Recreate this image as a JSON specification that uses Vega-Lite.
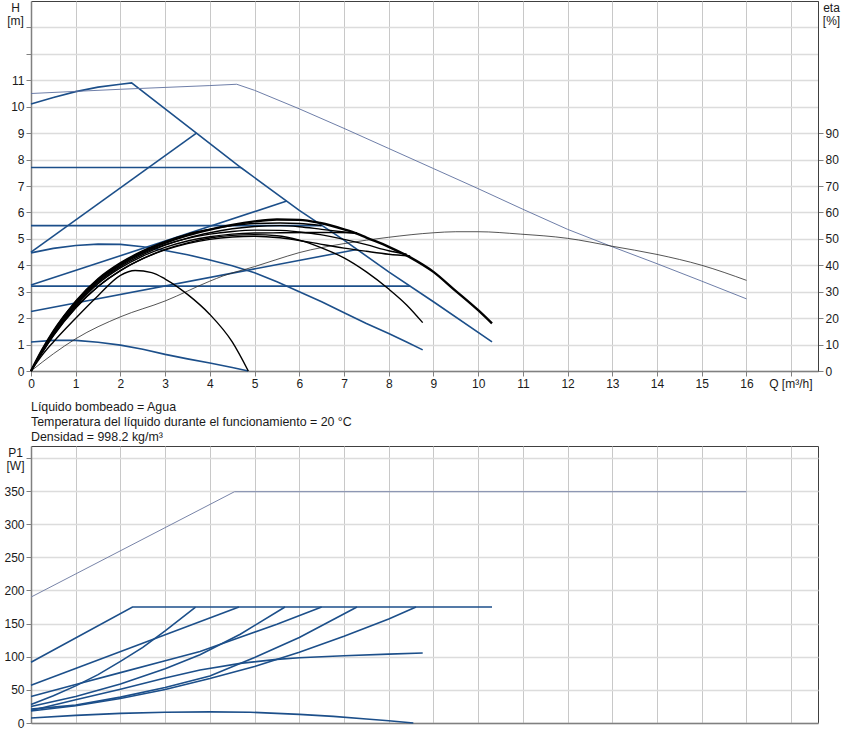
{
  "$schema": "https://vega.github.io/schema/vega-lite/v6.json",
  "padding": {"left": 3, "top": 0, "right": 5, "bottom": 5},
  "background": "white",
  "config": {
    "font": "Liberation Sans",
    "view": {"stroke": "#404040", "strokeWidth": 1},
    "axis": {
      "labelFont": "Liberation Sans", "labelFontSize": 12, "labelColor": "#1a1a1a",
      "titleFont": "Liberation Sans", "titleFontSize": 12, "titleFontWeight": "normal", "titleColor": "#1a1a1a",
      "domainColor": "#808080", "domainWidth": 1.5, "tickColor": "#808080", "tickSize": 5, "labelPadding": 2,
      "gridColor": "#d3d3d3", "labelFlush": false, "labelOverlap": false
    }
  },
  "datasets": {
    "h": [
      {"c": "max", "q": 0, "h": 10.1}, {"c": "max", "q": 0.5, "h": 10.35}, {"c": "max", "q": 1, "h": 10.57}, {"c": "max", "q": 1.5, "h": 10.74}, {"c": "max", "q": 2, "h": 10.85}, {"c": "max", "q": 2.25, "h": 10.9}, {"c": "max", "q": 3.7, "h": 9.0}, {"c": "max", "q": 4.7, "h": 7.69}, {"c": "max", "q": 6, "h": 6.08}, {"c": "max", "q": 7, "h": 4.95}, {"c": "max", "q": 8, "h": 3.75}, {"c": "max", "q": 9, "h": 2.62}, {"c": "max", "q": 10.31, "h": 1.1},
      {"c": "cp3", "q": 0, "h": 7.7}, {"c": "cp3", "q": 4.7, "h": 7.7},
      {"c": "cp2", "q": 0, "h": 5.5}, {"c": "cp2", "q": 6.5, "h": 5.5},
      {"c": "cp1", "q": 0, "h": 3.21}, {"c": "cp1", "q": 8.48, "h": 3.21},
      {"c": "pp3", "q": 0, "h": 4.5}, {"c": "pp3", "q": 3.7, "h": 9.0},
      {"c": "pp2", "q": 0, "h": 3.25}, {"c": "pp2", "q": 5.72, "h": 6.43},
      {"c": "pp1", "q": 0, "h": 2.25}, {"c": "pp1", "q": 7.29, "h": 4.6},
      {"c": "s2", "q": 0, "h": 4.47}, {"c": "s2", "q": 0.5, "h": 4.64}, {"c": "s2", "q": 1, "h": 4.75}, {"c": "s2", "q": 1.5, "h": 4.8}, {"c": "s2", "q": 2, "h": 4.79}, {"c": "s2", "q": 2.5, "h": 4.7}, {"c": "s2", "q": 3, "h": 4.56}, {"c": "s2", "q": 3.5, "h": 4.4}, {"c": "s2", "q": 4, "h": 4.2}, {"c": "s2", "q": 4.5, "h": 3.98}, {"c": "s2", "q": 5, "h": 3.72}, {"c": "s2", "q": 5.5, "h": 3.38}, {"c": "s2", "q": 6, "h": 3.0}, {"c": "s2", "q": 6.5, "h": 2.62}, {"c": "s2", "q": 7.06, "h": 2.16}, {"c": "s2", "q": 7.5, "h": 1.8}, {"c": "s2", "q": 8, "h": 1.42}, {"c": "s2", "q": 8.4, "h": 1.1}, {"c": "s2", "q": 8.76, "h": 0.8},
      {"c": "s1", "q": 0, "h": 1.1}, {"c": "s1", "q": 0.5, "h": 1.16}, {"c": "s1", "q": 1, "h": 1.16}, {"c": "s1", "q": 1.5, "h": 1.09}, {"c": "s1", "q": 2, "h": 0.98}, {"c": "s1", "q": 2.5, "h": 0.82}, {"c": "s1", "q": 3, "h": 0.63}, {"c": "s1", "q": 3.5, "h": 0.46}, {"c": "s1", "q": 4, "h": 0.3}, {"c": "s1", "q": 4.5, "h": 0.13}, {"c": "s1", "q": 4.86, "h": 0},
      {"c": "ref", "q": 0, "h": 10.5}, {"c": "ref", "q": 1, "h": 10.58}, {"c": "ref", "q": 2, "h": 10.66}, {"c": "ref", "q": 3, "h": 10.73}, {"c": "ref", "q": 4, "h": 10.8}, {"c": "ref", "q": 4.6, "h": 10.85}, {"c": "ref", "q": 5, "h": 10.62}, {"c": "ref", "q": 6, "h": 9.92}, {"c": "ref", "q": 7, "h": 9.18}, {"c": "ref", "q": 8, "h": 8.42}, {"c": "ref", "q": 9, "h": 7.66}, {"c": "ref", "q": 10, "h": 6.9}, {"c": "ref", "q": 11, "h": 6.12}, {"c": "ref", "q": 12, "h": 5.36}, {"c": "ref", "q": 13, "h": 4.7}, {"c": "ref", "q": 14, "h": 4.06}, {"c": "ref", "q": 15, "h": 3.4}, {"c": "ref", "q": 16, "h": 2.73}
    ],
    "eta": [
      {"c": "emax", "q": 0, "e": 0}, {"c": "emax", "q": 0.25, "e": 8}, {"c": "emax", "q": 0.5, "e": 15}, {"c": "emax", "q": 1, "e": 26}, {"c": "emax", "q": 1.5, "e": 34.5}, {"c": "emax", "q": 2, "e": 40.5}, {"c": "emax", "q": 2.5, "e": 45}, {"c": "emax", "q": 3, "e": 48.5}, {"c": "emax", "q": 3.5, "e": 51.3}, {"c": "emax", "q": 4, "e": 53.5}, {"c": "emax", "q": 4.5, "e": 55.3}, {"c": "emax", "q": 5, "e": 56.6}, {"c": "emax", "q": 5.5, "e": 57.3}, {"c": "emax", "q": 6, "e": 57.2}, {"c": "emax", "q": 6.47, "e": 56}, {"c": "emax", "q": 7, "e": 53.6}, {"c": "emax", "q": 7.29, "e": 52}, {"c": "emax", "q": 7.5, "e": 50.5}, {"c": "emax", "q": 8, "e": 47}, {"c": "emax", "q": 8.48, "e": 43}, {"c": "emax", "q": 9, "e": 37.5}, {"c": "emax", "q": 9.45, "e": 31}, {"c": "emax", "q": 10, "e": 23}, {"c": "emax", "q": 10.31, "e": 18},
      {"c": "ea", "q": 0, "e": 0}, {"c": "ea", "q": 0.25, "e": 8}, {"c": "ea", "q": 0.5, "e": 15}, {"c": "ea", "q": 1, "e": 26.5}, {"c": "ea", "q": 1.5, "e": 35}, {"c": "ea", "q": 2, "e": 41}, {"c": "ea", "q": 2.5, "e": 45.5}, {"c": "ea", "q": 3, "e": 49}, {"c": "ea", "q": 3.5, "e": 51.8}, {"c": "ea", "q": 4, "e": 53.6}, {"c": "ea", "q": 4.5, "e": 55}, {"c": "ea", "q": 5, "e": 55.8}, {"c": "ea", "q": 5.57, "e": 56}, {"c": "ea", "q": 6, "e": 55.8}, {"c": "ea", "q": 6.5, "e": 55},
      {"c": "eb", "q": 0, "e": 0}, {"c": "eb", "q": 0.25, "e": 7.5}, {"c": "eb", "q": 0.5, "e": 14.2}, {"c": "eb", "q": 1, "e": 25}, {"c": "eb", "q": 1.5, "e": 33.5}, {"c": "eb", "q": 2, "e": 39.5}, {"c": "eb", "q": 2.5, "e": 44}, {"c": "eb", "q": 3, "e": 47.6}, {"c": "eb", "q": 3.5, "e": 50.3}, {"c": "eb", "q": 4, "e": 52.3}, {"c": "eb", "q": 4.5, "e": 53.8}, {"c": "eb", "q": 5, "e": 54.7}, {"c": "eb", "q": 5.57, "e": 55}, {"c": "eb", "q": 6, "e": 54.6}, {"c": "eb", "q": 6.5, "e": 53.6}, {"c": "eb", "q": 7, "e": 52.6}, {"c": "eb", "q": 7.29, "e": 52},
      {"c": "ec", "q": 0, "e": 0}, {"c": "ec", "q": 0.25, "e": 7.2}, {"c": "ec", "q": 0.5, "e": 13.8}, {"c": "ec", "q": 1, "e": 24.5}, {"c": "ec", "q": 1.5, "e": 33}, {"c": "ec", "q": 2, "e": 39}, {"c": "ec", "q": 2.5, "e": 43.5}, {"c": "ec", "q": 3, "e": 46.8}, {"c": "ec", "q": 3.5, "e": 49.2}, {"c": "ec", "q": 4, "e": 50.8}, {"c": "ec", "q": 4.5, "e": 51.8}, {"c": "ec", "q": 5, "e": 52.2}, {"c": "ec", "q": 5.57, "e": 52.3}, {"c": "ec", "q": 6.5, "e": 52.4}, {"c": "ec", "q": 7.29, "e": 52.3},
      {"c": "ed", "q": 0, "e": 0}, {"c": "ed", "q": 0.25, "e": 7.6}, {"c": "ed", "q": 0.5, "e": 14.4}, {"c": "ed", "q": 1, "e": 25.3}, {"c": "ed", "q": 1.5, "e": 34}, {"c": "ed", "q": 2, "e": 40}, {"c": "ed", "q": 2.5, "e": 44.5}, {"c": "ed", "q": 3, "e": 47.8}, {"c": "ed", "q": 3.5, "e": 50.2}, {"c": "ed", "q": 4, "e": 51.8}, {"c": "ed", "q": 4.5, "e": 52.8}, {"c": "ed", "q": 5, "e": 53.3}, {"c": "ed", "q": 5.57, "e": 53.2}, {"c": "ed", "q": 6, "e": 52.6}, {"c": "ed", "q": 6.47, "e": 51.6}, {"c": "ed", "q": 7, "e": 49.8}, {"c": "ed", "q": 7.5, "e": 47.8}, {"c": "ed", "q": 8, "e": 45.5}, {"c": "ed", "q": 8.4, "e": 44.2},
      {"c": "ecp1", "q": 0, "e": 0}, {"c": "ecp1", "q": 0.25, "e": 7}, {"c": "ecp1", "q": 0.5, "e": 13.3}, {"c": "ecp1", "q": 1, "e": 23.8}, {"c": "ecp1", "q": 1.5, "e": 32}, {"c": "ecp1", "q": 2, "e": 38}, {"c": "ecp1", "q": 2.5, "e": 42.5}, {"c": "ecp1", "q": 3, "e": 45.8}, {"c": "ecp1", "q": 3.5, "e": 48.2}, {"c": "ecp1", "q": 4, "e": 49.8}, {"c": "ecp1", "q": 4.5, "e": 50.7}, {"c": "ecp1", "q": 5, "e": 51}, {"c": "ecp1", "q": 5.57, "e": 50.4}, {"c": "ecp1", "q": 6, "e": 49.4}, {"c": "ecp1", "q": 6.47, "e": 48}, {"c": "ecp1", "q": 7, "e": 46.5}, {"c": "ecp1", "q": 7.5, "e": 45.3}, {"c": "ecp1", "q": 8, "e": 44.2}, {"c": "ecp1", "q": 8.48, "e": 43.5},
      {"c": "e2", "q": 0, "e": 0}, {"c": "e2", "q": 0.25, "e": 7}, {"c": "e2", "q": 0.5, "e": 13.5}, {"c": "e2", "q": 1, "e": 24}, {"c": "e2", "q": 1.5, "e": 32}, {"c": "e2", "q": 2, "e": 38}, {"c": "e2", "q": 2.5, "e": 42.5}, {"c": "e2", "q": 3, "e": 46}, {"c": "e2", "q": 3.5, "e": 48.5}, {"c": "e2", "q": 4, "e": 50.3}, {"c": "e2", "q": 4.5, "e": 51.3}, {"c": "e2", "q": 5, "e": 51.6}, {"c": "e2", "q": 5.5, "e": 51.2}, {"c": "e2", "q": 6, "e": 49.5}, {"c": "e2", "q": 6.47, "e": 46.8}, {"c": "e2", "q": 7, "e": 42.8}, {"c": "e2", "q": 7.5, "e": 37.5}, {"c": "e2", "q": 8, "e": 31}, {"c": "e2", "q": 8.4, "e": 25}, {"c": "e2", "q": 8.76, "e": 18.3},
      {"c": "e1", "q": 0, "e": 0}, {"c": "e1", "q": 0.25, "e": 6}, {"c": "e1", "q": 0.5, "e": 11}, {"c": "e1", "q": 1, "e": 20}, {"c": "e1", "q": 1.5, "e": 28.5}, {"c": "e1", "q": 2, "e": 36.2}, {"c": "e1", "q": 2.33, "e": 38}, {"c": "e1", "q": 2.7, "e": 37.2}, {"c": "e1", "q": 3, "e": 34.8}, {"c": "e1", "q": 3.5, "e": 29}, {"c": "e1", "q": 4, "e": 21.4}, {"c": "e1", "q": 4.5, "e": 11}, {"c": "e1", "q": 4.86, "e": 0}
    ],
    "etaref": [
      {"q": 0, "e": 0}, {"q": 0.5, "e": 6.5}, {"q": 1, "e": 12.2}, {"q": 2, "e": 20.5}, {"q": 3, "e": 26.5}, {"q": 4, "e": 34}, {"q": 4.3, "e": 36}, {"q": 5, "e": 39.5}, {"q": 5.46, "e": 42}, {"q": 6, "e": 44.8}, {"q": 7, "e": 48.2}, {"q": 8, "e": 50.6}, {"q": 9, "e": 52.3}, {"q": 9.5, "e": 52.7}, {"q": 10, "e": 52.7}, {"q": 10.94, "e": 51.8}, {"q": 12, "e": 50.2}, {"q": 13, "e": 47.2}, {"q": 14, "e": 44.1}, {"q": 15, "e": 40}, {"q": 16, "e": 34.3}
    ],
    "p": [
      {"c": "ref", "q": 0, "p": 190}, {"c": "ref", "q": 4.55, "p": 349}, {"c": "ref", "q": 16, "p": 349},
      {"c": "max", "q": 0, "p": 91.7}, {"c": "max", "q": 2.27, "p": 175}, {"c": "max", "q": 10.31, "p": 175},
      {"c": "pp3", "q": 0, "p": 28}, {"c": "pp3", "q": 0.5, "p": 41}, {"c": "pp3", "q": 1, "p": 56}, {"c": "pp3", "q": 1.5, "p": 73}, {"c": "pp3", "q": 2, "p": 93}, {"c": "pp3", "q": 2.5, "p": 114}, {"c": "pp3", "q": 3, "p": 139}, {"c": "pp3", "q": 3.68, "p": 175},
      {"c": "cp3", "q": 0, "p": 57}, {"c": "cp3", "q": 4.65, "p": 175},
      {"c": "pp2", "q": 0, "p": 25}, {"c": "pp2", "q": 1, "p": 40}, {"c": "pp2", "q": 2, "p": 59}, {"c": "pp2", "q": 3, "p": 82}, {"c": "pp2", "q": 3.78, "p": 103}, {"c": "pp2", "q": 4.68, "p": 134}, {"c": "pp2", "q": 5.68, "p": 175},
      {"c": "cp2", "q": 0, "p": 40}, {"c": "cp2", "q": 1, "p": 58}, {"c": "cp2", "q": 2, "p": 76}, {"c": "cp2", "q": 3, "p": 94}, {"c": "cp2", "q": 3.78, "p": 108}, {"c": "cp2", "q": 4.41, "p": 123}, {"c": "cp2", "q": 5.5, "p": 149}, {"c": "cp2", "q": 6.5, "p": 175},
      {"c": "pp1", "q": 0, "p": 21}, {"c": "pp1", "q": 1, "p": 27}, {"c": "pp1", "q": 2, "p": 39}, {"c": "pp1", "q": 3, "p": 53.5}, {"c": "pp1", "q": 4, "p": 71}, {"c": "pp1", "q": 5, "p": 99}, {"c": "pp1", "q": 6, "p": 129}, {"c": "pp1", "q": 7.29, "p": 175},
      {"c": "cp1", "q": 0, "p": 18}, {"c": "cp1", "q": 1, "p": 26}, {"c": "cp1", "q": 2, "p": 37}, {"c": "cp1", "q": 3, "p": 50.5}, {"c": "cp1", "q": 4, "p": 67}, {"c": "cp1", "q": 5, "p": 85.3}, {"c": "cp1", "q": 6, "p": 106.7}, {"c": "cp1", "q": 7, "p": 131}, {"c": "cp1", "q": 8, "p": 157}, {"c": "cp1", "q": 8.61, "p": 175},
      {"c": "s2", "q": 0, "p": 19}, {"c": "s2", "q": 1, "p": 35}, {"c": "s2", "q": 2, "p": 51}, {"c": "s2", "q": 3, "p": 68}, {"c": "s2", "q": 3.78, "p": 80}, {"c": "s2", "q": 4.68, "p": 90}, {"c": "s2", "q": 5.5, "p": 96}, {"c": "s2", "q": 6, "p": 98.5}, {"c": "s2", "q": 7, "p": 101.5}, {"c": "s2", "q": 8, "p": 104}, {"c": "s2", "q": 8.76, "p": 105.7},
      {"c": "s1", "q": 0, "p": 7.6}, {"c": "s1", "q": 1, "p": 11.5}, {"c": "s1", "q": 2, "p": 14.5}, {"c": "s1", "q": 3, "p": 16.3}, {"c": "s1", "q": 4, "p": 16.8}, {"c": "s1", "q": 4.9, "p": 16.3}, {"c": "s1", "q": 6, "p": 13}, {"c": "s1", "q": 6.76, "p": 10}, {"c": "s1", "q": 7.5, "p": 6}, {"c": "s1", "q": 8, "p": 3.5}, {"c": "s1", "q": 8.55, "p": 0}
    ]
  },
  "bounds": "flush",
  "spacing": 75,
  "vconcat": [
    {
      "width": 787,
      "height": 370,
      "layer": [
        {
          "encoding": {
            "x": {"field": "q", "type": "quantitative", "scale": {"domain": [0, 17.6], "nice": false},
              "axis": {"values": [0,1,2,3,4,5,6,7,8,9,10,11,12,13,14,15,16,17], "labelExpr": "datum.value <= 16 ? datum.label : ''", "gridColor": "#c8c8c8",
                "title": "Q [m³/h]", "titleX": 781, "titleY": 7, "titleAlign": "right", "titleBaseline": "top"}},
            "y": {"field": "h", "type": "quantitative", "scale": {"domain": [0, 14], "nice": false},
              "axis": {"values": [0,1,2,3,4,5,6,7,8,9,10,11,12,13], "labelExpr": "datum.value <= 11 ? datum.label : ''", "gridColor": "#dcdcdc", "gridWidth": 1.5,
                "title": ["H", "[m]"], "titleAngle": 0, "titleX": -16, "titleY": 1, "titleAlign": "center", "titleBaseline": "top", "titleLineHeight": 13}}
          },
          "layer": [
            {"data": {"name": "h"}, "transform": [{"filter": "datum.c != 'ref'"}],
              "mark": {"type": "line", "color": "#1c4f8a", "strokeWidth": 1.6},
              "encoding": {"detail": {"field": "c"}}},
            {"data": {"name": "h"}, "transform": [{"filter": "datum.c == 'ref'"}],
              "mark": {"type": "line", "color": "#5d6f9e", "strokeWidth": 0.9},
              "encoding": {}},
            {"data": {"values": [{"t": "MAGNA1 D 32-100 F"}]},
              "mark": {"type": "rect", "fill": "white", "stroke": "#7f7f7f", "strokeWidth": 1},
              "encoding": {"x": {"datum": 14.83}, "x2": {"datum": 17.6}, "y": {"datum": 13.17}, "y2": {"datum": 14}}},
            {"data": {"values": [{"t": "MAGNA1 D 32-100 F"}]},
              "mark": {"type": "text", "fontSize": 12.3, "color": "#1a1a1a", "align": "center", "baseline": "middle"},
              "encoding": {"x": {"datum": 16.21}, "y": {"datum": 13.58}, "text": {"field": "t"}}}
          ]
        },
        {
          "encoding": {
            "x": {"field": "q", "type": "quantitative"},
            "y": {"field": "e", "type": "quantitative", "scale": {"domain": [0, 140], "nice": false},
              "axis": {"orient": "right", "values": [0,10,20,30,40,50,60,70,80,90], "grid": false, "domainColor": "#404040", "domainWidth": 1,
                "title": ["eta", "[%]"], "titleAngle": 0, "titleX": 13, "titleY": 1, "titleAlign": "center", "titleBaseline": "top", "titleLineHeight": 13}}
          },
          "layer": [
            {"data": {"name": "etaref"}, "mark": {"type": "line", "color": "#2a2a2a", "strokeWidth": 0.8, "interpolate": "monotone"}, "encoding": {}},
            {"data": {"name": "eta"}, "transform": [{"filter": "datum.c != 'emax'"}],
              "mark": {"type": "line", "color": "black", "strokeWidth": 1.4, "interpolate": "monotone"},
              "encoding": {"detail": {"field": "c"}}},
            {"data": {"name": "eta"}, "transform": [{"filter": "datum.c == 'emax'"}],
              "mark": {"type": "line", "color": "black", "strokeWidth": 2.4, "interpolate": "monotone"},
              "encoding": {}}
          ]
        }
      ],
      "resolve": {"scale": {"y": "independent"}}
    },
    {
      "width": 787,
      "height": 277,
      "title": {
        "text": ["Líquido bombeado = Agua", "Temperatura del líquido durante el funcionamiento = 20 °C", "Densidad = 998.2 kg/m³"],
        "anchor": "start", "frame": "group", "font": "Liberation Sans", "fontSize": 12.4, "fontWeight": "normal",
        "color": "#1a1a1a", "lineHeight": 15, "offset": 3
      },
      "data": {"name": "p"},
      "encoding": {
        "x": {"field": "q", "type": "quantitative", "scale": {"domain": [0, 17.6], "nice": false},
          "axis": {"values": [0,1,2,3,4,5,6,7,8,9,10,11,12,13,14,15,16,17], "labels": false, "ticks": false, "gridColor": "#c8c8c8", "title": null}},
        "y": {"field": "p", "type": "quantitative", "scale": {"domain": [0, 418], "nice": false},
          "axis": {"values": [0,50,100,150,200,250,300,350,400], "labelExpr": "datum.value <= 350 ? datum.label : ''", "gridColor": "#dcdcdc", "gridWidth": 1.5,
            "title": ["P1", "[W]"], "titleAngle": 0, "titleX": -16, "titleY": 1, "titleAlign": "center", "titleBaseline": "top", "titleLineHeight": 13}}
      },
      "layer": [
        {"transform": [{"filter": "datum.c != 'ref'"}],
          "mark": {"type": "line", "color": "#1c4f8a", "strokeWidth": 1.6},
          "encoding": {"detail": {"field": "c"}}},
        {"transform": [{"filter": "datum.c == 'ref'"}],
          "mark": {"type": "line", "color": "#7884a8", "strokeWidth": 1},
          "encoding": {}}
      ]
    }
  ]
}
